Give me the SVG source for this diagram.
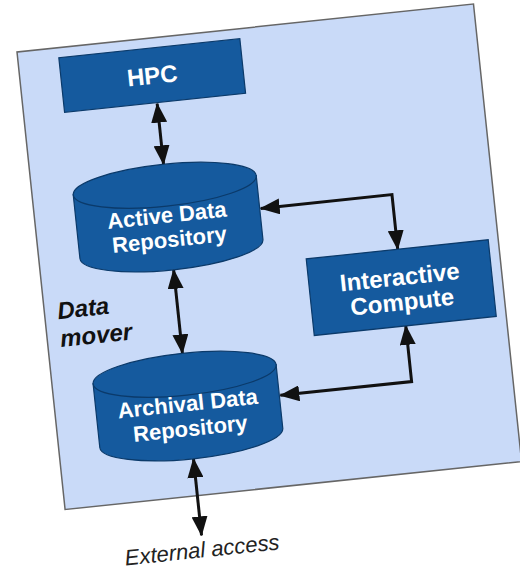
<svg xmlns="http://www.w3.org/2000/svg" width="520" height="571" viewBox="0 0 520 571">
  <defs>
    <marker id="head" viewBox="0 0 20 16" markerWidth="20" markerHeight="16" refX="19" refY="8" orient="auto-start-reverse" markerUnits="userSpaceOnUse">
      <path d="M0,0 L20,8 L0,16 Z" fill="#111"/>
    </marker>
    <style>
      .panel { fill: #c9daf8; stroke: #666; stroke-width: 1.5; }
      .node { fill: #155a9e; stroke: #0b3a6a; stroke-width: 1.2; }
      .label { font-family: "Liberation Sans", Arial, sans-serif; font-weight: bold; fill: #ffffff; text-anchor: middle; }
      .note { font-family: "Liberation Sans", Arial, sans-serif; font-weight: bold; font-style: italic; fill: #111; font-size: 24px; }
      .ext { font-family: "Liberation Sans", Arial, sans-serif; font-style: italic; fill: #222; font-size: 22px; text-anchor: middle; }
      .link { fill: none; stroke: #111; stroke-width: 3; marker-start: url(#head); marker-end: url(#head); }
    </style>
  </defs>
  <rect width="520" height="571" fill="#ffffff"/>
  <!-- whole board is tilted a few degrees -->
  <g transform="translate(17,52) rotate(-6)">
    <rect class="panel" x="0" y="0" width="459" height="460"/>

    <g id="connectors">
      <path class="link" d="M134,66 L134,127"/>
      <path class="link" d="M133,233 L133,317"/>
      <path class="link" d="M133,423 L133,500"/>
      <path class="link" d="M226,181 L358,181 L358,236"/>
      <path class="link" d="M226,369 L358,369 L358,313"/>
    </g>

    <g id="hpc">
      <rect class="node" x="41" y="10" width="182" height="55"/>
      <text class="label" x="132" y="46" font-size="24">HPC</text>
    </g>

    <g id="active-repo">
      <path class="node" d="M41,148 L41,212 A92,21 0 0 0 225,212 L225,148 Z"/>
      <ellipse class="node" cx="133" cy="148" rx="92" ry="21"/>
      <text class="label" x="132" y="185.5" font-size="22">Active Data</text>
      <text class="label" x="132" y="210" font-size="22">Repository</text>
    </g>

    <g id="archival-repo">
      <path class="node" d="M41,338 L41,402 A92,21 0 0 0 225,402 L225,338 Z"/>
      <ellipse class="node" cx="133" cy="338" rx="92" ry="21"/>
      <text class="label" x="133" y="375" font-size="22">Archival Data</text>
      <text class="label" x="133" y="400" font-size="22">Repository</text>
    </g>

    <g id="interactive">
      <rect class="node" x="266" y="236" width="183" height="77"/>
      <text class="label" x="357" y="272" font-size="24">Interactive</text>
      <text class="label" x="357" y="297" font-size="24">Compute</text>
    </g>

    <g id="data-mover">
      <text class="note" x="13" y="270">Data</text>
      <text class="note" x="13" y="298">mover</text>
    </g>

    <g id="external">
      <text class="ext" x="132" y="522">External access</text>
    </g>
  </g>
</svg>
